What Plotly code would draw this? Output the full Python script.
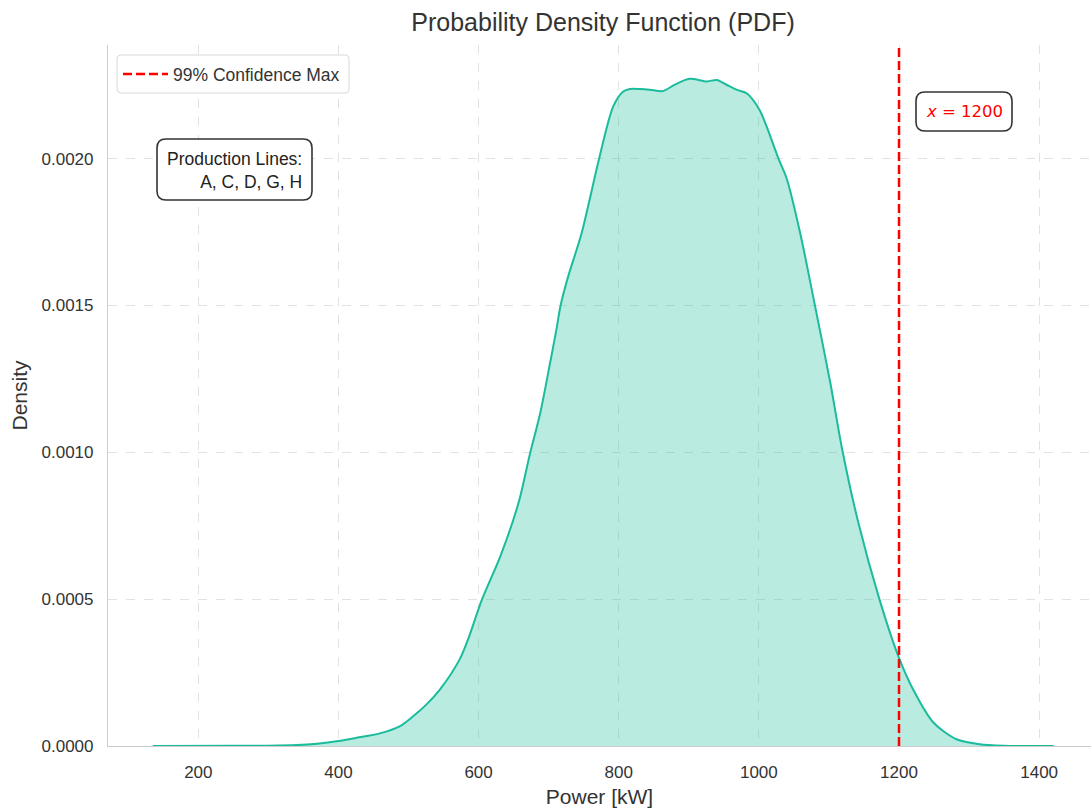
import plotly.graph_objects as go

# ---- data ----
power_kw = [135, 250, 300, 340, 370, 400, 426, 459, 488, 507, 525, 545, 573, 585,
            605, 631, 657, 673, 688, 702, 711, 717, 728, 747, 772, 792, 806, 816, 830,
            844, 863, 880, 901, 926, 940, 955, 969, 983, 1001, 1011, 1028, 1040,
            1059, 1080, 1102, 1119, 1142, 1172, 1199, 1220, 1249, 1282, 1315, 1350,
            1421]
density = [0.0, 0.0000005, 0.000001, 0.000003, 0.000008, 0.000017, 0.000028,
           0.000043, 0.000068, 0.000102, 0.000140, 0.000193, 0.000295, 0.000363,
           0.000500, 0.000646, 0.000828, 0.000992, 0.001134, 0.001304, 0.001417,
           0.001500, 0.001600, 0.001746, 0.002000, 0.002177, 0.002228, 0.002237,
           0.002237, 0.002235, 0.002230, 0.002252, 0.002272, 0.002263, 0.002268,
           0.002250, 0.002234, 0.002222, 0.002166, 0.002110, 0.002000, 0.001930,
           0.001746, 0.001500, 0.001236, 0.001009, 0.000760, 0.000500, 0.000306,
           0.000193, 0.000080, 0.000023, 0.000006, 0.000001, 0.0]
conf_max_x = 1200
x_ticks = [200, 400, 600, 800, 1000, 1200, 1400]
y_ticks = [0.0, 0.0005, 0.0010, 0.0015, 0.0020]
x_range = [71.1, 1474]
y_range = [0.0, 0.002387]
production_lines = ["A", "C", "D", "G", "H"]

# ---- layout geometry (pixels) ----
W, H = 1091, 811
ML, MR, MT, MB = 108, 0, 45, 65
PW, PH = W - ML - MR, H - MT - MB


def px2paper(px, py):
    return (px - ML) / PW, (H - MB - py) / PH


def rounded_box(x0, y0, x1, y1, r=8):
    def P(px, py):
        a, b = px2paper(px, py)
        return f"{a:.5f},{b:.5f}"
    return (f"M {P(x0 + r, y0)} L {P(x1 - r, y0)} Q {P(x1, y0)} {P(x1, y0 + r)} "
            f"L {P(x1, y1 - r)} Q {P(x1, y1)} {P(x1 - r, y1)} "
            f"L {P(x0 + r, y1)} Q {P(x0, y1)} {P(x0, y1 - r)} "
            f"L {P(x0, y0 + r)} Q {P(x0, y0)} {P(x0 + r, y0)} Z")


TEAL = "rgb(26,188,156)"
TXT = "#333333"
FONT = "Liberation Sans, Arial, sans-serif"

fig = go.Figure()
fig.add_trace(go.Scatter(
    x=power_kw, y=density, mode="lines",
    line=dict(color=TEAL, width=2, shape="spline", smoothing=0.8),
    fill="tozeroy", fillcolor="rgba(26,188,156,0.3)",
    showlegend=False, hoverinfo="skip"))
fig.add_trace(go.Scatter(
    x=[conf_max_x, conf_max_x], y=y_range, mode="lines",
    line=dict(color="red", width=2.5, dash="9px,4px"),
    name="99% Confidence Max"))

shapes = [
    dict(type="path", xref="paper", yref="paper", path=rounded_box(117, 55, 349, 93, 4),
         line=dict(color="#d8d8d8", width=1), fillcolor="rgba(255,255,255,0.85)", layer="above"),
    dict(type="path", xref="paper", yref="paper", path=rounded_box(157, 139, 312, 200, 9),
         line=dict(color="#333333", width=1.6), fillcolor="white", layer="above"),
    dict(type="path", xref="paper", yref="paper", path=rounded_box(916, 92, 1012, 131, 9),
         line=dict(color="#333333", width=1.6), fillcolor="white", layer="above"),
]

px_, py_ = px2paper(304, 170)
px2_, py2_ = px2paper(964, 111)
annotations = [
    dict(xref="paper", yref="paper", x=px_, y=py_, xanchor="right", yanchor="middle",
         text="Production Lines:<br>" + ", ".join(production_lines), align="right",
         showarrow=False, font=dict(family=FONT, size=17.5, color="#222222")),
    dict(xref="paper", yref="paper", x=px2_, y=py2_, xanchor="center", yanchor="middle",
         text=f"<i>x</i> = {conf_max_x}", showarrow=False,
         font=dict(family="DejaVu Sans", size=16.5, color="red")),
]

lx, ly = px2paper(118, 56)
fig.update_layout(
    width=W, height=H,
    margin=dict(l=ML, r=MR, t=MT, b=MB),
    paper_bgcolor="white", plot_bgcolor="white",
    title=dict(text="Probability Density Function (PDF)", x=603 / W,
               xanchor="center", y=1 - 22 / H, yanchor="middle",
               font=dict(family=FONT, size=25, color=TXT)),
    font=dict(family=FONT, size=17, color=TXT),
    xaxis=dict(range=x_range, tickvals=x_ticks, showgrid=True, gridcolor="#e2e2e2",
               griddash="dash", gridwidth=1, zeroline=False, showline=True,
               linecolor="#cccccc", linewidth=1.2, ticks="", ticklabelstandoff=10,
               tickfont=dict(size=17, color=TXT),
               title=dict(text="Power [kW]", font=dict(size=21, color=TXT), standoff=8)),
    yaxis=dict(range=y_range, tickvals=y_ticks, tickformat=".4f", showgrid=True,
               gridcolor="#e2e2e2", griddash="dash", gridwidth=1, zeroline=False,
               showline=True, linecolor="#cccccc", linewidth=1.2, ticks="",
               ticklabelstandoff=10, tickfont=dict(size=17, color=TXT),
               title=dict(text="Density", font=dict(size=21, color=TXT), standoff=8)),
    legend=dict(x=lx, y=ly, xanchor="left", yanchor="top", bgcolor="rgba(0,0,0,0)",
                borderwidth=0, itemwidth=45, font=dict(size=17.5, color=TXT)),
    shapes=shapes, annotations=annotations,
)

fig.write_html("out.html")
